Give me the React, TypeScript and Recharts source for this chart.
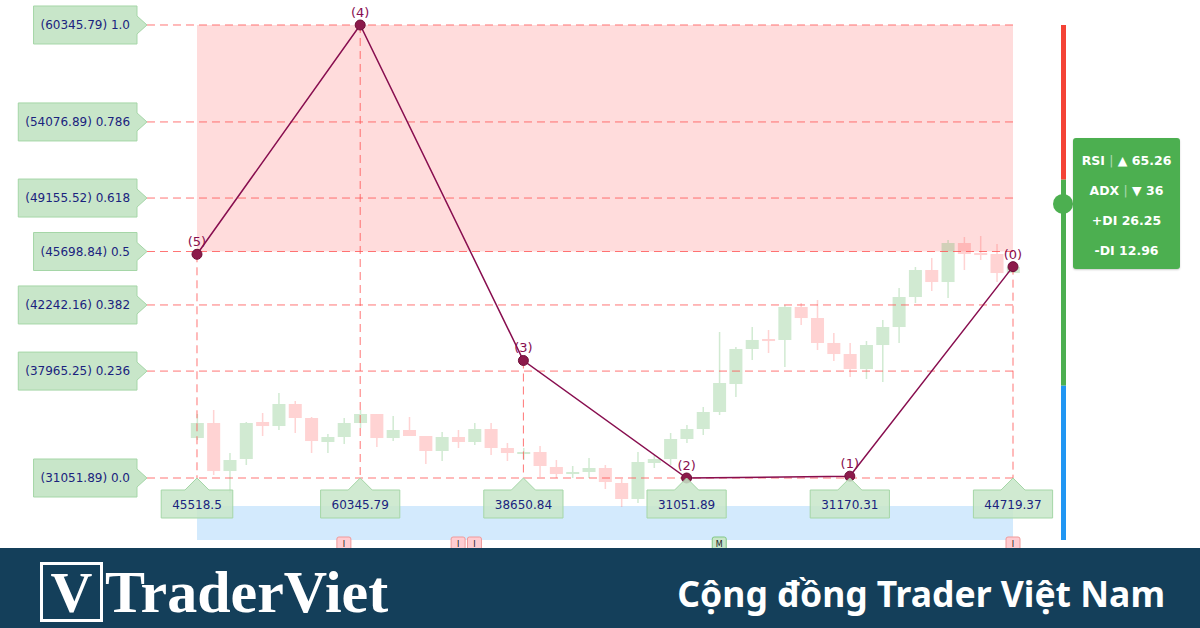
import React from 'react';
import {
  ComposedChart,
  BarChart,
  Bar,
  Line,
  XAxis,
  YAxis,
  ReferenceArea,
  ReferenceLine,
  ReferenceDot,
  LabelList,
} from 'recharts';

// OHLC per candle, index 0..50
const opens = [33638, 34608, 31504, 32280, 34673, 34414, 35837, 34932, 33380, 33703, 34608, 35190, 33638, 34156, 33768, 32798, 33703, 33380, 34220, 32992, 32668, 32733, 31763, 31310, 31440, 31698, 30728, 29694, 32022, 32280, 33574, 34220, 35320, 37130, 39394, 40040, 39976, 42110, 41398, 39782, 39070, 38100, 39652, 40816, 42756, 44502, 43726, 46248, 45602, 45537, 44308];
const closes = [34608, 31504, 32216, 34608, 34414, 35837, 34932, 33444, 33703, 34608, 35190, 33638, 34156, 33768, 32798, 33703, 33380, 34220, 32992, 32668, 32733, 31828, 31310, 31440, 31698, 30793, 29694, 32086, 32280, 33574, 34220, 35320, 37195, 39394, 39976, 39911, 42110, 41398, 39782, 39070, 38100, 39652, 40816, 42756, 44502, 43726, 46248, 45537, 45472, 44308, 44696];
const highs = [35190, 35449, 32668, 34673, 35255, 36548, 36031, 34996, 33897, 34932, 35449, 35190, 35061, 34996, 33768, 34026, 34156, 34608, 34608, 33315, 32992, 33121, 32216, 31828, 32345, 31892, 30987, 32733, 32539, 33962, 34479, 35643, 40493, 39523, 40816, 40622, 42239, 42368, 42562, 40428, 39782, 39911, 41269, 43338, 44696, 45278, 46442, 46636, 46701, 46184, 44696];
const lows = [33509, 31245, 30082, 31892, 33768, 34156, 33962, 32668, 32668, 33250, 34285, 33056, 33444, 33768, 31957, 32151, 32992, 33186, 32539, 32151, 32216, 31116, 31051, 31051, 31051, 30340, 29176, 29435, 31698, 31892, 33315, 33832, 35126, 36290, 38682, 39135, 38230, 40946, 39329, 38618, 37583, 37454, 37260, 39782, 42368, 43144, 42692, 44502, 45149, 43726, 44308];

// zigzag pivots
const pivotIndex = [0, 10, 20, 30, 40, 50];
const pivotPrice = [45518.5, 60345.79, 38650.84, 31051.89, 31170.31, 44719.37];
const pivotName = ['(5)', '(4)', '(3)', '(2)', '(1)', '(0)'];

// fibonacci retracement levels
const fibRatio = ['1.0', '0.786', '0.618', '0.5', '0.382', '0.236', '0.0'];
const fibPrice = [60345.79, 54076.89, 49155.52, 45698.84, 42242.16, 37965.25, 31051.89];

// blue band under the candles
const bandPrice = [27042.5, 29241.2];

// event markers below candles
const markerIndex = [9, 16, 17, 32, 50];
const markerTag = ['I', 'I', 'I', 'M', 'I'];
const markerPrice = 26848;

// RSI gauge zones (0-30, 30-70, 70-100)
const gaugeZones = [30, 40, 30];
const rsiValue = 65.26;

const indicatorNames = ['RSI', 'ADX', '+DI', '-DI'];
const indicatorValues = ['65.26', '36', '26.25', '12.96'];
const indicatorArrows = ['▲', '▼', '', ''];

const candles = opens.map((o, i) => ({
  i,
  open: o,
  close: closes[i],
  high: highs[i],
  low: lows[i],
  range: [lows[i], highs[i]],
}));

const pivots = pivotIndex.map((i, k) => ({ i, price: pivotPrice[k], name: pivotName[k] }));

const X_DOMAIN = [-12.071, 61.458];
const Y_DOMAIN = [26525.25, 61962.45];
const FIB_TIP = -3.064;

const GREEN = '#4caf50';
const RED = '#ff5252';
const DASH = '#ff5252';
const NAVY = '#1a237e';
const MAROON = '#880e4f';
const FONT = 'DejaVu Sans, Verdana, sans-serif';

const textWidth = (s: string) =>
  s.split('').reduce((w, c) => w + (/[0-9]/.test(c) ? 7.63 : c === '(' || c === ')' ? 4.68 : 3.81), 0);

const Candle = (props: any) => {
  const { x, y, width, height, payload } = props;
  if (!payload || height == null) return null;
  const { open, close, high, low } = payload;
  const k = height / (high - low);
  const color = close >= open ? GREEN : RED;
  const top = y + (high - Math.max(open, close)) * k;
  const bh = Math.max(2, Math.abs(open - close) * k);
  const cx = x + width / 2;
  return (
    <g opacity={0.25}>
      <line x1={cx} x2={cx} y1={y} y2={y + height} stroke={color} strokeWidth={1.5} />
      <rect x={x} y={top} width={width} height={bh} fill={color} />
    </g>
  );
};

const PivotDot = (props: any) => {
  const { cx, cy, index } = props;
  if (cx == null || cy == null) return null;
  return <circle key={`pd-${index}`} cx={cx} cy={cy} r={5} fill="#8c1a4b" stroke="#6d0f38" strokeWidth={1} />;
};

const FibTag = ({ cx, cy, text }: any) => {
  const w = textWidth(text) + 14;
  const r = cx - 10;
  const l = r - w;
  const d = `M${l},${cy - 19} L${r},${cy - 19} L${r},${cy - 9} L${cx},${cy} L${r},${cy + 9} L${r},${cy + 19} L${l},${cy + 19} Z`;
  return (
    <g>
      <path d={d} fill="#c8e6c9" stroke="#a5d6a7" strokeWidth={1} />
      <text x={(l + r) / 2} y={cy} dy="0.36em" textAnchor="middle" fill={NAVY} fontSize={12} fontFamily={FONT}>
        {text}
      </text>
    </g>
  );
};

const PriceTag = ({ cx, cy, text }: any) => {
  const w = textWidth(text) + 22;
  const l = cx - w / 2;
  const r = cx + w / 2;
  const t = cy + 12;
  const b = cy + 40;
  const d = `M${l},${t} L${cx - 12},${t} L${cx},${cy} L${cx + 12},${t} L${r},${t} L${r},${b} L${l},${b} Z`;
  return (
    <g>
      <path d={d} fill="#c8e6c9" fillOpacity={0.85} stroke="#a5d6a7" strokeWidth={1} />
      <text x={cx} y={cy + 27} dy="0.36em" textAnchor="middle" fill={NAVY} fontSize={12} fontFamily={FONT}>
        {text}
      </text>
    </g>
  );
};

const Marker = ({ cx, cy, tag }: any) => {
  const green = tag === 'M';
  return (
    <g>
      <rect x={cx - 7} y={cy - 6} width={14} height={16} rx={2} fill={green ? '#c8e6c9' : '#ffcdd2'} stroke={green ? '#81c784' : '#ef9a9a'} />
      <text x={cx} y={cy + 3.5} textAnchor="middle" fontSize={8} fill="#222" fontFamily={FONT}>
        {tag}
      </text>
    </g>
  );
};

function MainChart() {
  return (
    <div style={{ position: 'absolute', left: 0, top: 0 }}>
      <ComposedChart width={1200} height={548} data={candles} margin={{ top: 0, right: 0, bottom: 0, left: 0 }}>
        <XAxis type="number" dataKey="i" domain={X_DOMAIN} hide allowDataOverflow />
        <YAxis type="number" domain={Y_DOMAIN} hide allowDataOverflow />
        <ReferenceArea x1={0} x2={50} y1={fibPrice[3]} y2={fibPrice[0]} fill={RED} fillOpacity={0.2} stroke="none" />
        <ReferenceArea x1={0} x2={50} y1={bandPrice[0]} y2={bandPrice[1]} fill="#2196f3" fillOpacity={0.2} stroke="none" />
        <Bar dataKey="range" barSize={13} shape={<Candle />} isAnimationActive={false} />
        {fibPrice.map((p, k) => (
          <ReferenceLine
            key={`fib-${k}`}
            segment={[{ x: FIB_TIP, y: p }, { x: 50, y: p }]}
            stroke={DASH}
            strokeOpacity={0.8}
            strokeDasharray="8 5"
            ifOverflow="visible"
          />
        ))}
        {pivots.map((p, k) => (
          <ReferenceLine
            key={`vert-${k}`}
            segment={[{ x: p.i, y: p.price }, { x: p.i, y: fibPrice[6] }]}
            stroke={DASH}
            strokeOpacity={0.8}
            strokeDasharray="8 5"
            ifOverflow="visible"
          />
        ))}
        <Line
          data={pivots}
          dataKey="price"
          type="linear"
          stroke={MAROON}
          strokeWidth={1.5}
          dot={PivotDot}
          activeDot={false}
          isAnimationActive={false}
        >
          <LabelList dataKey="name" position="top" offset={8} fill={MAROON} fontSize={13} fontFamily={FONT} />
        </Line>
        {fibPrice.map((p, k) => (
          <ReferenceDot
            key={`tag-${k}`}
            x={FIB_TIP}
            y={p}
            ifOverflow="visible"
            shape={(props: any) => <FibTag {...props} text={`(${p.toFixed(2)}) ${fibRatio[k]}`} />}
          />
        ))}
        {pivots.map((p, k) => (
          <ReferenceDot
            key={`ptag-${k}`}
            x={p.i}
            y={fibPrice[6]}
            ifOverflow="visible"
            shape={(props: any) => <PriceTag {...props} text={String(p.price)} />}
          />
        ))}
        {markerIndex.map((m, k) => (
          <ReferenceDot
            key={`mk-${k}`}
            x={m}
            y={markerPrice}
            ifOverflow="visible"
            shape={(props: any) => <Marker {...props} tag={markerTag[k]} />}
          />
        ))}
      </ComposedChart>
    </div>
  );
}

function Gauge() {
  const data = [{ k: 'rsi', low: gaugeZones[0], mid: gaugeZones[1], high: gaugeZones[2] }];
  return (
    <div style={{ position: 'absolute', left: 1052.5, top: 25 }}>
      <BarChart width={20} height={515} data={data} margin={{ top: 0, right: 0, bottom: 0, left: 0 }}>
        <XAxis dataKey="k" type="category" hide />
        <YAxis type="number" domain={[0, 100]} hide />
        <Bar dataKey="low" stackId="g" fill="#2196f3" barSize={5} isAnimationActive={false} />
        <Bar dataKey="mid" stackId="g" fill={GREEN} barSize={5} isAnimationActive={false} />
        <Bar dataKey="high" stackId="g" fill="#f44336" barSize={5} isAnimationActive={false} />
        <ReferenceDot x="rsi" y={rsiValue} r={10} fill={GREEN} stroke="none" ifOverflow="visible" />
      </BarChart>
    </div>
  );
}

function IndicatorBox() {
  return (
    <div
      style={{
        position: 'absolute',
        left: 1073,
        top: 138,
        width: 107,
        height: 131,
        background: GREEN,
        borderRadius: 3,
        boxShadow: '0 1px 2px rgba(0,0,0,0.2)',
        paddingTop: 8,
        boxSizing: 'border-box',
        color: '#fff',
        fontFamily: FONT,
        fontWeight: 700,
        fontSize: 12.5,
      }}
    >
      {indicatorNames.map((n, k) => (
        <div key={n} style={{ height: 30, lineHeight: '30px', textAlign: 'center', whiteSpace: 'nowrap' }}>
          {indicatorArrows[k] ? (
            <>
              {n} <span style={{ color: 'rgba(255,255,255,0.55)', fontWeight: 400 }}>|</span> {indicatorArrows[k]} {indicatorValues[k]}
            </>
          ) : (
            <>
              {n} {indicatorValues[k]}
            </>
          )}
        </div>
      ))}
    </div>
  );
}

function Banner() {
  return (
    <div style={{ position: 'absolute', left: 0, top: 548, width: 1200, height: 80, background: '#143f5a' }}>
      <div
        style={{
          position: 'absolute',
          left: 40,
          top: 14,
          width: 57,
          height: 54,
          border: '3px solid #fff',
        }}
      />
      <div
        style={{
          position: 'absolute',
          left: 43,
          top: 17,
          width: 57,
          height: 54,
          textAlign: 'center',
          color: '#fff',
          fontFamily: 'Liberation Serif, serif',
          fontWeight: 700,
          fontSize: 58,
          lineHeight: '56px',
        }}
      >
        V
      </div>
      <div
        style={{
          position: 'absolute',
          left: 105,
          top: 14,
          color: '#fff',
          fontFamily: 'Liberation Serif, serif',
          fontWeight: 700,
          fontSize: 60,
          lineHeight: '60px',
          whiteSpace: 'nowrap',
        }}
      >
        TraderViet
      </div>
      <div
        style={{
          position: 'absolute',
          right: 35,
          top: 27,
          color: '#fff',
          fontFamily: 'Noto Sans, sans-serif',
          fontWeight: 700,
          fontSize: 35.5,
          lineHeight: '36px',
          whiteSpace: 'nowrap',
        }}
      >
        Cộng đồng Trader Việt Nam
      </div>
    </div>
  );
}

export default function App() {
  return (
    <div style={{ position: 'absolute', left: 0, top: 0, width: 1200, height: 628, background: '#fff', overflow: 'hidden' }}>
      <MainChart />
      <Gauge />
      <IndicatorBox />
      <Banner />
    </div>
  );
}
